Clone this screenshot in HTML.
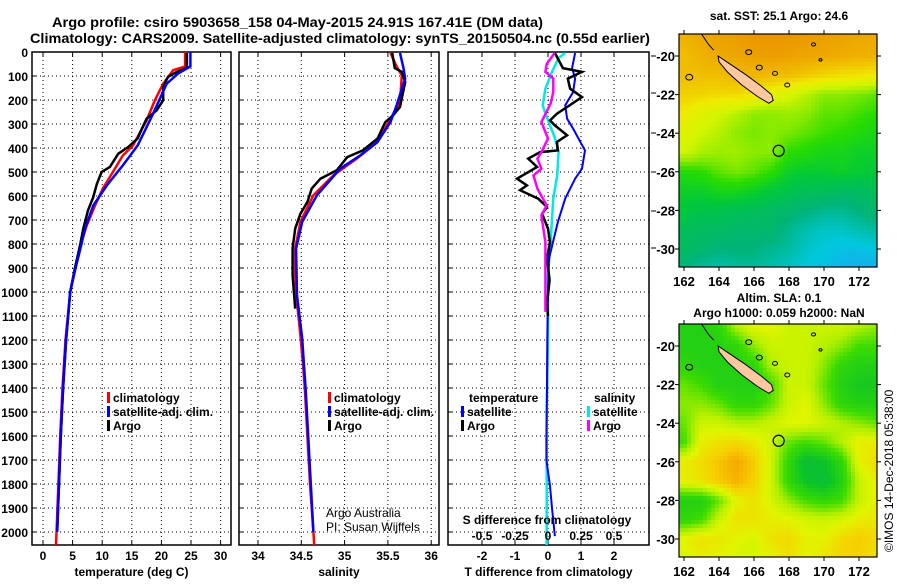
<!DOCTYPE html>
<html><head><meta charset="utf-8"><style>
html,body{margin:0;padding:0;background:#fff;}
svg text{font-family:"Liberation Sans",sans-serif;}
</style></head><body>
<svg id="fig" width="900" height="580" viewBox="0 0 900 580" xmlns="http://www.w3.org/2000/svg">
<text x="52" y="27" font-size="14" font-weight="bold" textLength="491" lengthAdjust="spacingAndGlyphs">Argo profile: csiro 5903658_158 04-May-2015 24.91S 167.41E (DM data)</text>
<text x="30" y="43" font-size="14" font-weight="bold" textLength="620" lengthAdjust="spacingAndGlyphs">Climatology: CARS2009. Satellite-adjusted climatology: synTS_20150504.nc (0.55d earlier)</text>
<g id="g"></g>
</svg>
<script>
// ---------- data ----------
const tArgoDepth=[4,67,83,104,146,201,243,278,319,360,396,424,479,500,549,604,660,736,800,900,1000,1200,1400,1600,1800,2000];
const tArgoVal=[24.3,24.3,22.6,21.1,20.3,20.3,19.2,17.5,16.7,16.0,14.4,12.7,11.3,9.9,9.1,8.5,7.6,6.8,6.3,5.4,4.6,3.9,3.4,3.0,2.7,2.4];
const tClimDepth=[0,60,76,132,201,285,389,431,500,569,639,722,800,900,1000,1200,1400,1600,1800,2054];
const tClimVal=[24.0,24.0,22.0,20.3,18.9,17.5,15.2,13.5,11.8,10.1,8.8,7.4,6.4,5.4,4.6,3.8,3.3,2.9,2.6,2.2];
const tSatDepth=[0,60,90,132,257,389,472,556,639,736,800,900,1000,1200,1400,1600,1800,2000];
const tSatVal=[24.9,24.9,22.8,20.9,18.6,16.0,13.5,10.8,8.5,7.1,6.5,5.5,4.6,3.9,3.4,3.0,2.7,2.4];

const sArgoDepth=[4,67,83,125,229,264,292,361,410,438,493,528,569,625,674,736,819,930,1069];
const sArgoVal=[35.55,35.58,35.66,35.70,35.64,35.56,35.47,35.38,35.21,35.03,34.91,34.72,34.62,34.57,34.49,34.43,34.40,34.40,34.43];
const sClimDepth=[4,60,97,208,278,375,444,514,597,708,819,930,1042,1180,1300,1400,1600,1800,2054];
const sClimVal=[35.53,35.60,35.66,35.64,35.53,35.38,35.14,34.87,34.64,34.49,34.43,34.43,34.45,34.49,34.52,34.54,34.57,34.60,34.65];
const sSatDepth=[4,67,111,222,292,375,431,486,597,708,819,1014,1194,1300,1400,1600,1800,2000];
const sSatVal=[35.64,35.68,35.70,35.60,35.53,35.38,35.18,34.95,34.68,34.51,34.44,34.45,34.51,34.53,34.55,34.58,34.61,34.64];

const dTArgoDepth=[4,67,83,111,153,188,229,257,285,306,347,375,410,417,444,479,528,556,576,611,646,674,736,792,861,950,1050,1100];
const dTArgoVal=[0.21,0.45,1.03,0.6,0.67,1.03,0.58,0.27,0.06,0.21,0.58,0.27,0.3,-0.24,-0.6,-0.33,-0.94,-0.64,-0.85,-0.3,-0.03,-0.18,0,0.06,-0.03,0.05,-0.03,0];
const dTSatDepth=[4,67,111,167,222,278,319,410,486,528,611,708,792,861,1000,1200,1400,1600,1700,1808,1900,2017];
const dTSatVal=[0.82,0.73,0.82,0.76,0.52,0.58,0.76,1.12,1.03,0.82,0.52,0.30,0.15,0.03,0.0,-0.02,-0.03,-0.05,-0.05,0.06,0.12,0.21];
const dSSatDepth=[4,25,83,153,222,271,354,417,514,611,792,930,1200,1500,1800,2054];
const dSSatVal=[0.13,0.08,0.03,-0.02,-0.04,-0.01,0.05,0.08,0.07,0.04,0.02,0,0,-0.01,-0.01,-0.01];
const dSArgoDepth=[4,50,83,111,167,215,292,361,417,444,486,514,569,639,681,792,930,1083];
const dSArgoVal=[0.05,-0.01,-0.02,0.04,0.04,0.02,-0.05,0,-0.05,-0.08,-0.05,-0.11,-0.08,-0.01,-0.05,-0.02,-0.02,-0.02];

const depthTicks=[0,100,200,300,400,500,600,700,800,900,1000,1100,1200,1300,1400,1500,1600,1700,1800,1900,2000];
const tTicks=[0,5,10,15,20,25,30];
const sTicks=[34,34.5,35,35.5,36];
const sTickLabels=["34","34.5","35","35.5","36"];
const dTTicks=[-2,-1,0,1,2];
const dSTicks=[-0.5,-0.25,0,0.25,0.5];
const dSTickLabels=["-0.5","-0.25","0","0.25","0.5"];
const lonTicks=[162,164,166,168,170,172];
const latTicks=[-20,-22,-24,-26,-28,-30];

// SST field (rows lat -19..-31, cols lon 162..173), 0=cold blue, 1=warm orange
const sstGrid=[
[0.93,0.95,0.97,0.98,1.0,1.0,1.0,0.99,0.98,0.97,0.96,0.95],
[0.9,0.93,0.95,0.96,0.97,0.98,0.97,0.96,0.95,0.94,0.93,0.93],
[0.9,0.9,0.9,0.92,0.92,0.91,0.9,0.88,0.85,0.83,0.82,0.8],
[0.86,0.85,0.84,0.84,0.82,0.76,0.72,0.66,0.6,0.6,0.58,0.55],
[0.8,0.74,0.7,0.66,0.6,0.6,0.62,0.6,0.55,0.55,0.52,0.5],
[0.74,0.7,0.66,0.6,0.58,0.6,0.58,0.55,0.52,0.5,0.48,0.45],
[0.7,0.64,0.62,0.63,0.6,0.6,0.5,0.48,0.45,0.45,0.42,0.42],
[0.48,0.5,0.55,0.58,0.55,0.5,0.42,0.4,0.4,0.42,0.4,0.38],
[0.42,0.42,0.45,0.45,0.42,0.38,0.35,0.32,0.32,0.3,0.3,0.32],
[0.38,0.35,0.35,0.33,0.32,0.3,0.28,0.25,0.22,0.22,0.25,0.28],
[0.32,0.3,0.3,0.28,0.28,0.28,0.22,0.18,0.15,0.15,0.18,0.2],
[0.3,0.28,0.25,0.25,0.25,0.22,0.2,0.15,0.12,0.1,0.1,0.12],
[0.25,0.2,0.18,0.2,0.2,0.18,0.15,0.12,0.1,0.08,0.06,0.06]];
// SLA field, 0=low teal-green, 1=high orange
const slaGrid=[
[0.3,0.3,0.35,0.55,0.65,0.65,0.6,0.6,0.6,0.6,0.55,0.5],
[0.3,0.3,0.3,0.35,0.5,0.6,0.6,0.6,0.55,0.5,0.4,0.4],
[0.35,0.3,0.3,0.3,0.35,0.55,0.6,0.6,0.5,0.35,0.3,0.3],
[0.45,0.4,0.3,0.3,0.3,0.4,0.6,0.6,0.45,0.3,0.25,0.25],
[0.5,0.5,0.45,0.35,0.35,0.45,0.6,0.65,0.5,0.35,0.3,0.3],
[0.45,0.6,0.6,0.55,0.55,0.6,0.65,0.65,0.6,0.55,0.5,0.45],
[0.4,0.68,0.72,0.76,0.7,0.6,0.45,0.4,0.45,0.55,0.68,0.68],
[0.68,0.74,0.82,0.9,0.8,0.6,0.35,0.15,0.2,0.35,0.66,0.75],
[0.68,0.72,0.8,0.88,0.78,0.6,0.35,0.2,0.15,0.3,0.58,0.68],
[0.3,0.3,0.45,0.66,0.72,0.62,0.5,0.4,0.35,0.4,0.58,0.68],
[0.35,0.4,0.6,0.72,0.72,0.68,0.66,0.62,0.6,0.62,0.68,0.7],
[0.66,0.72,0.7,0.66,0.62,0.72,0.75,0.66,0.66,0.75,0.8,0.75],
[0.62,0.68,0.66,0.62,0.62,0.66,0.74,0.66,0.72,0.78,0.78,0.72]];

// ---------- helpers ----------
const NS="http://www.w3.org/2000/svg";
const G=document.getElementById('g');
function el(tag,attrs,parent){const e=document.createElementNS(NS,tag);for(const k in attrs)e.setAttribute(k,attrs[k]);(parent||G).appendChild(e);return e;}
function txt(x,y,s,attrs,parent){const e=el('text',Object.assign({x:x,y:y,'font-size':12,'font-weight':'bold'},attrs||{}),parent);e.textContent=s;return e;}
const TOP=52,BOT=545;
function yD(d){return TOP+d*0.24;}
function xT(t){return 43+t*5.92;}
function xS(s){return 258+(s-34)*86.6;}
function xDT(t){return 548+t*33;}
function xDS(s){return 548+s*132;}

function panel(name,L,R,xs,xf,labels,xlabel,showY){
  const g=el('g',{});
  
  
  for(const d of depthTicks){
    const h=el('line',{x1:L,x2:R,y1:yD(d),y2:yD(d),stroke:'#000','stroke-width':1,'stroke-dasharray':'1 3'},g);
    
    
    const t1=el('line',{x1:L,x2:L+4,y1:yD(d),y2:yD(d),stroke:'#000'},g);
    
    
    if(showY){
      const lb=txt(28,yD(d)+5,String(d),{'text-anchor':'end'},g);
      
      
    }
  }
  xs.forEach((v,i)=>{
    const x=xf(v);
    const vl=el('line',{x1:x,x2:x,y1:TOP,y2:BOT,stroke:'#000','stroke-width':1,'stroke-dasharray':'1 3'},g);
    
    
    el('line',{x1:x,x2:x,y1:TOP,y2:TOP+4,stroke:'#000'},g);
    el('line',{x1:x,x2:x,y1:BOT,y2:BOT-4,stroke:'#000'},g);
    if(labels){
      const lb=txt(x,560,labels[i],{'text-anchor':'middle'},g);
      
      
    }
  });
  const fr=el('rect',{x:L,y:TOP,width:R-L,height:BOT-TOP,fill:'none',stroke:'#000','stroke-width':1.5},g);
  
  
  if(xlabel){
    const xl=txt((L+R)/2,576,xlabel,{'text-anchor':'middle'},g);
    
    
  }
  return g;
}
function series(name,depths,vals,xf,color,w){
  const pts=depths.map((d,i)=>xf(vals[i]).toFixed(1)+','+yD(d).toFixed(1)).join(' ');
  const p=el('polyline',{points:pts,fill:'none',stroke:color,'stroke-width':w||2,'stroke-linejoin':'miter'});
  
  
  return p;
}
function legendEntry(x,y,color,label,nm){
  const g=el('g',{});
  
  
  el('rect',{x:x,y:y-10,width:3,height:11,fill:color},g);
  txt(x+6,y,label,{},g);
}

// ---------- panel 1: temperature ----------
panel('temperature-panel',32,231,tTicks,xT,tTicks.map(String),'temperature (deg C)',true);
series('temperature-climatology-line',tClimDepth,tClimVal,xT,'#ff0000',2.5);
series('temperature-argo-line',tArgoDepth,tArgoVal,xT,'#000000',2.5);
series('temperature-satellite-line',tSatDepth,tSatVal,xT,'#0000ff',2.5);
legendEntry(107,402,'#ff0000','climatology','legend-climatology');
legendEntry(107,416,'#0000ff','satellite-adj. clim.','legend-satellite-adj');
legendEntry(107,430,'#000000','Argo','legend-argo');

// ---------- panel 2: salinity ----------
panel('salinity-panel',239,439,sTicks,xS,sTickLabels,'salinity',false);
series('salinity-climatology-line',sClimDepth,sClimVal,xS,'#ff0000',2.5);
series('salinity-argo-line',sArgoDepth,sArgoVal,xS,'#000000',2.5);
series('salinity-satellite-line',sSatDepth,sSatVal,xS,'#0000ff',2.5);
legendEntry(328,402,'#ff0000','climatology','legend-climatology-2');
legendEntry(328,416,'#0000ff','satellite-adj. clim.','legend-satellite-adj-2');
legendEntry(328,430,'#000000','Argo','legend-argo-2');
(function(){const a=txt(326,517,'Argo Australia',{'font-weight':'normal'});

const b=txt(326,531,'PI: Susan Wijffels',{'font-weight':'normal'});
})();

// ---------- panel 3: differences ----------
panel('difference-panel',448,649,dTTicks,xDT,dTTicks.map(String),'T difference from climatology',false);
series('s-diff-satellite-line',dSSatDepth,dSSatVal,xDS,'#00e8e8',2.5);
series('t-diff-satellite-line',dTSatDepth,dTSatVal,xDT,'#0000ff',2);
series('t-diff-argo-line',dTArgoDepth,dTArgoVal,xDT,'#000000',2.5);
series('s-diff-argo-line',dSArgoDepth,dSArgoVal,xDS,'#ff00ff',2.5);
dSTicks.forEach((v,i)=>{const t=txt(xDS(v),540,dSTickLabels[i],{'text-anchor':'middle'});
});
(function(){const t=txt(547,524,'S difference from climatology',{'text-anchor':'middle'});

const a=txt(469,402,'temperature');
const b=txt(594,402,'salinity');})();
legendEntry(461,416,'#0000ff','satellite','legend-t-satellite');
legendEntry(461,430,'#000000','Argo','legend-t-argo');
legendEntry(587,416,'#00e8e8','satellite','legend-s-satellite');
legendEntry(587,430,'#ff00ff','Argo','legend-s-argo');
[56,93,133,172,211,248].forEach(y=>el('line',{x1:651,x2:656,y1:y,y2:y,stroke:'#000'}));

// ---------- maps ----------
function lerp(a,b,t){return a+(b-a)*t;}
function palette(stops,v){
  v=Math.max(0,Math.min(1,v));
  for(let i=1;i<stops.length;i++){if(v<=stops[i][0]){const a=stops[i-1],b=stops[i];const t=(v-a[0])/(b[0]-a[0]);
    return 'rgb('+[1,2,3].map(k=>Math.round(lerp(a[k],b[k],t))).join(',')+')';}}
  const l=stops[stops.length-1];return 'rgb('+l[1]+','+l[2]+','+l[3]+')';
}
const sstStops=[[0,40,150,255],[0.12,0,200,220],[0.25,0,180,120],[0.38,0,200,60],[0.5,40,220,0],[0.6,140,235,0],[0.7,210,245,0],[0.8,240,235,0],[0.9,240,190,0],[1,235,150,0]];
const slaStops=[[0,20,170,110],[0.2,10,195,40],[0.4,60,220,0],[0.55,180,240,0],[0.65,225,245,0],[0.78,245,210,0],[0.9,245,170,0],[1,240,140,0]];
function sample(grid,lon,lat){
  const c=Math.max(0,Math.min(10.999,lon-162)),r=Math.max(0,Math.min(11.999,-19-lat));
  const c0=Math.floor(c),r0=Math.floor(r),tc=c-c0,tr=r-r0;
  const a=lerp(grid[r0][c0],grid[r0][c0+1],tc),b=lerp(grid[r0+1][c0],grid[r0+1][c0+1],tc);
  return lerp(a,b,tr);
}
function drawMap(name,top,grid,stops,t1){
  const L=679,R=877,B=top+233;
  const xL=lon=>684+(lon-162)*17.5;
  const yL=lat=>top+22+(-20-lat)*19.3;
  const g=el('g',{});
  
  
  const step=4;
  for(let y=top;y<B;y+=step){for(let x=L;x<R;x+=step){
    const lon=162+(x+step/2-684)/17.5,lat=-20-(y+step/2-top-22)/19.3;
    el('rect',{x:x,y:y,width:Math.min(step,R-x),height:Math.min(step,B-y),fill:palette(stops,sample(grid,lon,lat))},g);
  }}
  const isl=[[163.95,-20.0],[164.6,-20.4],[165.5,-20.95],[166.4,-21.55],[167.0,-22.0],[167.1,-22.3],[166.85,-22.45],[166.2,-22.1],[165.3,-21.5],[164.5,-20.85],[164.0,-20.3]];
  const nc=el('polygon',{points:isl.map(p=>xL(p[0]).toFixed(1)+','+yL(p[1]).toFixed(1)).join(' '),fill:'#ffc8a0',stroke:'#000','stroke-width':1},g);
  
  
  [[162.3,-21.1,3.5],[165.7,-19.8,3],[166.3,-20.6,3],[167.2,-20.9,2.5],[167.9,-21.5,2.5],[169.4,-19.4,2],[169.8,-20.2,1.5]].forEach(p=>el('ellipse',{cx:xL(p[0]),cy:yL(p[1]),rx:p[2],ry:p[2]*0.8,fill:'none',stroke:'#000','stroke-width':1},g));
  el('polyline',{points:[xL(163.0)+','+(top),xL(163.4)+','+yL(-19.4),xL(163.7)+','+yL(-19.7)].join(' '),fill:'none',stroke:'#000'},g);
  const m=el('circle',{cx:xL(167.41),cy:yL(-24.91),r:5.5,fill:'none',stroke:'#000','stroke-width':1.2},g);
  
  
  el('rect',{x:L,y:top,width:R-L,height:B-top,fill:'none',stroke:'#000','stroke-width':1.2},g);
  lonTicks.forEach(l=>{el('line',{x1:xL(l),x2:xL(l),y1:top,y2:top-4,stroke:'#000'},g);el('line',{x1:xL(l),x2:xL(l),y1:B,y2:B+4,stroke:'#000'},g);
    const t=txt(xL(l),B+19,String(l),{'text-anchor':'middle','font-size':13},g);});
  latTicks.forEach(l=>{el('line',{x1:L,x2:L-4,y1:yL(l),y2:yL(l),stroke:'#000'},g);el('line',{x1:R,x2:R+4,y1:yL(l),y2:yL(l),stroke:'#000'},g);
    const t=txt(675,yL(l)+5,String(l),{'text-anchor':'end','font-size':13},g);});
  t1.forEach((s,i)=>{const t=txt(779,s[1],s[0],{'text-anchor':'middle'},g);});
}
drawMap('sst-map',34,sstGrid,sstStops,[['sat. SST: 25.1 Argo: 24.6',20]]);
drawMap('sla-map',324,slaGrid,slaStops,[['Altim. SLA: 0.1',302],['Argo h1000: 0.059 h2000: NaN',317]]);
(function(){const t=txt(0,0,'©IMOS 14-Dec-2018 05:38:00',{'font-weight':'normal','font-size':12,transform:'translate(893,552) rotate(-90)'});
})();
</script>
</body></html>
